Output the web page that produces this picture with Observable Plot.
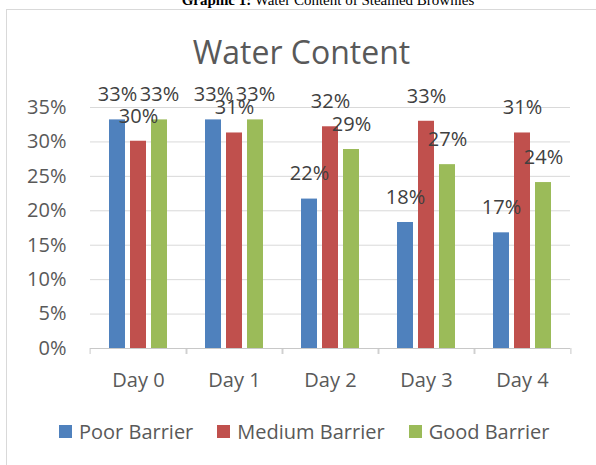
<!DOCTYPE html>
<html><head><meta charset="utf-8">
<script src="https://cdn.jsdelivr.net/npm/d3@7"></script>
<script src="https://cdn.jsdelivr.net/npm/@observablehq/plot@0.6"></script>
<style>
html,body{margin:0;padding:0;background:#fff;}
#page{position:relative;width:596px;height:465px;overflow:hidden;background:#fff;}
#caption{position:absolute;left:0;width:656px;top:-7.5px;text-align:center;font-family:"Liberation Serif";font-size:15px;line-height:15px;color:#000;white-space:nowrap;}
#box{position:absolute;left:6px;top:9px;width:640px;height:500px;border:1px solid #d9d9d9;}
#title{position:absolute;left:0;width:603px;top:36px;text-align:center;font-family:"Open Sans";font-size:32px;line-height:32px;color:#595959;white-space:nowrap;}
#chart{position:absolute;left:0;top:0;}
#legend{position:absolute;left:59px;top:415px;}
#legend span{margin-right:24px !important;}
#legend svg{margin-right:7px !important;}
</style>
</head><body>
<div id="page">
  <div id="caption"><b>Graphic 1:</b> Water Content of Steamed Brownies</div>
  <div id="box"></div>
  <div id="title">Water Content</div>
  <div id="chart"></div>
  <div id="legend"></div>
</div>
<script>
const days = ["Day 0", "Day 1", "Day 2", "Day 3", "Day 4"];
const series = ["Poor Barrier", "Medium Barrier", "Good Barrier"];
const poor = [33.2, 33.2, 21.7, 18.3, 16.8];
const medium = [30.1, 31.3, 32.2, 33.0, 31.3];
const good = [33.2, 33.2, 28.9, 26.7, 24.1];
const yTicks = [0, 5, 10, 15, 20, 25, 30, 35];
const colors = ["#4F81BD", "#C0504D", "#9BBB59"];

const values = [poor, medium, good];
const data = days.flatMap((d, i) => series.map((s, j) => ({day: d, series: s, value: values[j][i]})));

const W = 596, H = 400, ML = 88, MR = 24, MT = 107, MB = 52;
const step = (W - ML - MR) / days.length;

const chart = Plot.plot({
  width: W, height: H,
  marginLeft: ML, marginRight: MR, marginTop: MT, marginBottom: MB,
  style: {fontFamily: "Open Sans", fontSize: "20px", color: "#595959", background: "transparent", overflow: "visible"},
  fx: {domain: days, padding: 0, label: null},
  x: {domain: series, paddingInner: 0.23, paddingOuter: 0.845, axis: null},
  y: {domain: [0, 35], ticks: yTicks, tickFormat: d => d + "%", tickSize: 0, tickPadding: 24, label: null},
  color: {domain: series, range: colors},
  marks: [
    Plot.ruleY(yTicks.slice(1), {stroke: "#d9d9d9", strokeWidth: 1}),
    Plot.barY(data, {fx: "day", x: "series", y: "value", fill: "series"}),
    Plot.ruleY([0], {stroke: "#c8c8c8", strokeWidth: 1}),
    Plot.axisFx({anchor: "bottom", tickSize: 0, tickPadding: 24, label: null, fill: "#595959"}),
    Plot.axisFx({anchor: "bottom", tickSize: 6, text: null, label: null, dx: -step / 2, stroke: "#c8c8c8"}),
    Plot.axisFx({anchor: "bottom", tickSize: 6, text: null, label: null, dx: step / 2, stroke: "#c8c8c8"}),
    Plot.text(data, {fx: "day", x: "series", y: "value", text: d => `${Math.round(d.value)}%`, dy: -25, fill: "#404040"})
  ]
});
document.getElementById("chart").appendChild(chart);

const legend = Plot.legend({
  legend: "swatches",
  color: {domain: series, range: colors},
  swatchSize: 13,
  style: {fontFamily: "Open Sans", fontSize: "20px", color: "#595959"}
});
document.getElementById("legend").appendChild(legend);
</script>
</body></html>
